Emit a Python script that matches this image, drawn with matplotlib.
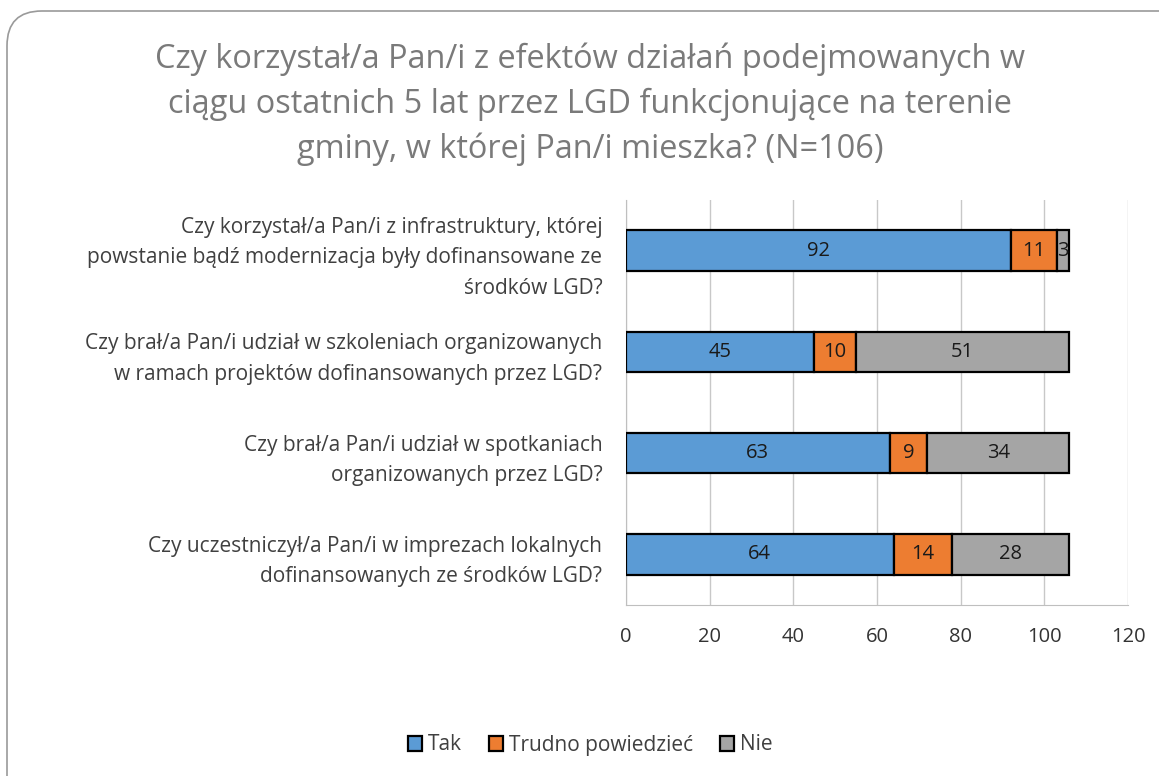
import matplotlib.pyplot as plt
from matplotlib.patches import FancyBboxPatch
import numpy as np

plt.rcParams['font.family'] = ['Open Sans', 'DejaVu Sans']

questions = [
    'Czy korzystał/a Pan/i z infrastruktury, której\npowstanie bądź modernizacja były dofinansowane ze\nśrodków LGD?',
    'Czy brał/a Pan/i udział w szkoleniach organizowanych\nw ramach projektów dofinansowanych przez LGD?',
    'Czy brał/a Pan/i udział w spotkaniach\norganizowanych przez LGD?',
    'Czy uczestniczył/a Pan/i w imprezach lokalnych\ndofinansowanych ze środków LGD?',
]
tak = [92, 45, 63, 64]
trudno = [11, 10, 9, 14]
nie = [3, 51, 34, 28]
series_names = ['Tak', 'Trudno powiedzieć', 'Nie']
colors = ['#5B9BD5', '#ED7D31', '#A5A5A5']

W, H = 1159, 776
fig = plt.figure(figsize=(W / 100, H / 100), dpi=100)

# rounded frame
frame = FancyBboxPatch((7 / W, -0.05), 1.2, 1 - 11 / H + 0.05,
                       boxstyle='round,pad=0,rounding_size=0.03',
                       transform=fig.transFigure, fill=False,
                       edgecolor='#9a9a9a', linewidth=1.2, mutation_aspect=W / H)
fig.patches.append(frame)

fig.text(590 / W, 1 - 104 / H,
         'Czy korzystał/a Pan/i z efektów działań podejmowanych w\nciągu ostatnich 5 lat przez LGD funkcjonujące na terenie\ngminy, w której Pan/i mieszka? (N=106)',
         ha='center', va='center', fontsize=23.4, color='#7a7a7a', linespacing=1.45)

ax = fig.add_axes([626 / W, 1 - 605 / H, (1128 - 626) / W, (605 - 200) / H])
y = np.arange(len(questions))
left = np.zeros(len(questions))
for vals, name, c in zip([tak, trudno, nie], series_names, colors):
    bars = ax.barh(y, vals, left=left, height=0.4, color=c, edgecolor='black',
                   linewidth=1.6, label=name, zorder=3)
    for b, v in zip(bars, vals):
        ax.text(b.get_x() + b.get_width() / 2, b.get_y() + b.get_height() / 2, str(v),
                ha='center', va='center', fontsize=14.5, color='#1a1a1a', zorder=4)
    left += np.array(vals)

ax.set_ylim(3.5, -0.5)
ax.set_xlim(0, 120)
ax.set_xticks(range(0, 121, 20))
ax.set_yticks(y)
ax.set_yticklabels(questions, fontsize=15, color='#404040', ha='right', linespacing=1.6)
ax.tick_params(axis='y', length=0, pad=17)
ax.tick_params(axis='x', length=0, pad=16, labelsize=14.5, labelcolor='#333333')
ax.grid(axis='x', color='#c8c8c8', linewidth=1, zorder=0)
for s in ['top', 'right']:
    ax.spines[s].set_visible(False)
ax.spines['left'].set_color('#bfbfbf')
ax.spines['bottom'].set_color('#bfbfbf')

leg = fig.legend(loc='center', bbox_to_anchor=(590 / W, 1 - 745 / H), ncol=3, frameon=False,
                 fontsize=15, handlelength=0.7, handleheight=0.7, handletextpad=0.25,
                 columnspacing=1.3, labelcolor='#404040')

fig.savefig('out.png', dpi=100)
